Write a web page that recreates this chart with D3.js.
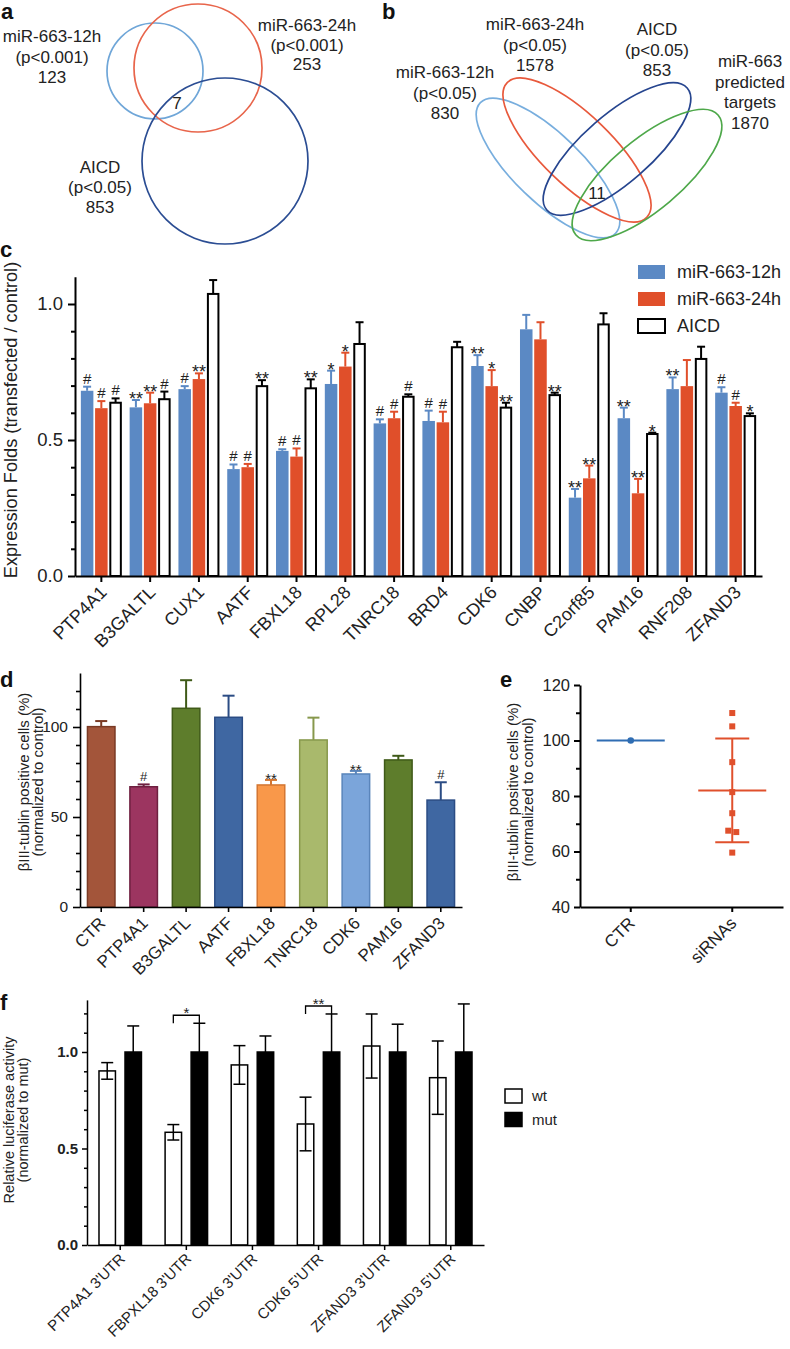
<!DOCTYPE html>
<html><head><meta charset="utf-8">
<script src="https://cdn.jsdelivr.net/npm/d3@7"></script>
<style>body{margin:0;background:#fff}svg{display:block}</style>
</head><body>
<script>
// ================= DATA =================
// Panel a (Venn)
const vennANames = ["miR-663-12h", "miR-663-24h", "AICD"];
const vennAPvals = ["(p<0.001)", "(p<0.001)", "(p<0.05)"];
const vennACounts = [123, 253, 853];
const vennAOverlap = 7;
// Panel b (Venn)
const vennBNames = [["miR-663-12h"], ["miR-663-24h"], ["AICD"], ["miR-663", "predicted", "targets"]];
const vennBPvals = ["(p<0.05)", "(p<0.05)", "(p<0.05)", null];
const vennBCounts = [830, 1578, 853, 1870];
const vennBOverlap = 11;
// Panel c
const cGenes = ["PTP4A1","B3GALTL","CUX1","AATF","FBXL18","RPL28","TNRC18","BRD4","CDK6","CNBP","C2orf85","PAM16","RNF208","ZFAND3"];
const cSeries = ["miR-663-12h","miR-663-24h","AICD"];
const c12hMean = [0.681,0.620,0.687,0.393,0.460,0.706,0.561,0.570,0.772,0.907,0.288,0.580,0.687,0.674];
const c12hErr  = [0.015,0.027,0.011,0.017,0.006,0.049,0.015,0.038,0.040,0.053,0.032,0.039,0.043,0.020];
const c12hSig  = ["#","**","#","#","#","*","#","#","**","","**","**","**","#"];
const c24hMean = [0.617,0.635,0.724,0.400,0.439,0.770,0.580,0.565,0.698,0.870,0.359,0.304,0.698,0.625];
const c24hErr  = [0.026,0.039,0.021,0.012,0.030,0.051,0.024,0.039,0.059,0.063,0.047,0.053,0.096,0.012];
const c24hSig  = ["#","**","**","#","#","*","#","#","*","","**","**","","#"];
const cAicdMean = [0.637,0.650,1.037,0.698,0.690,0.853,0.659,0.841,0.619,0.665,0.925,0.522,0.798,0.588];
const cAicdErr  = [0.016,0.028,0.051,0.022,0.033,0.080,0.009,0.020,0.018,0.009,0.041,0.005,0.045,0.010];
const cAicdSig  = ["#","#","","**","**","","#","","**","**","","*","","*"];
const cYTicks = [0, 0.5, 1.0];
// Panel d
const dGroups = ["CTR","PTP4A1","B3GALTL","AATF","FBXL18","TNRC18","CDK6","PAM16","ZFAND3"];
const dMean = [100.2, 66.8, 110.4, 105.4, 67.8, 92.8, 73.9, 81.7, 59.4];
const dErr  = [3.1, 1.3, 15.6, 12.0, 2.8, 12.4, 1.7, 2.3, 9.9];
const dSig  = ["","#","","","**","","**","","#"];
const dYTicks = [0, 50, 100];
// Panel e
const eGroups = ["CTR","siRNAs"];
const eCtrValues = [100];
const eSiValues = [109.9, 105.1, 92.2, 81.4, 73.8, 67.5, 67.0, 59.6];
const eMeans = [100, 82.0];
const eSDs = [0, 18.7];
const eYTicks = [40, 60, 80, 100, 120];
// Panel f
const fConstructs = ["PTP4A1 3'UTR","FBPXL18 3'UTR","CDK6 3'UTR","CDK6 5'UTR","ZFAND3 3'UTR","ZFAND3 5'UTR"];
const fSeries = ["wt","mut"];
const fWtMean = [0.902, 0.584, 0.933, 0.627, 1.031, 0.867];
const fWtErr  = [0.043, 0.040, 0.100, 0.139, 0.166, 0.190];
const fMutMean = [1, 1, 1, 1, 1, 1];
const fMutErr  = [0.135, 0.149, 0.083, 0.197, 0.144, 0.249];
const fSig = ["","*","","**","",""];
const fYTicks = [0, 0.5, 1.0];

// ================= STYLE =================
const FONT = '"Liberation Sans", Arial, Helvetica, sans-serif';
const C_BLUE = "#5b89c4", C_RED = "#e04f2a";
const dFill = ["#a3553a","#9c3560","#5e7d2c","#3f67a2","#f9984a","#a9b96c","#7ba5da","#5e7d2c","#3f67a2"];
const dStroke = ["#7a3a24","#6e2040","#3f5a18","#2b4c84","#d47632","#87984c","#5a85bb","#3f5a18","#2b4c84"];

const svg = d3.select("body").append("svg").attr("width",790).attr("height",1349)
  .attr("font-family", FONT).style("font-family", FONT);
svg.append("rect").attr("width",790).attr("height",1349).attr("fill","#fff");

function letter(t, x, y){
  svg.append("text").attr("x",x).attr("y",y).attr("font-size",22).attr("font-weight","bold").attr("fill","#111").text(t);
}
function lines(g, x, y0, arr, lh, fs){
  arr.forEach((t,i)=> g.append("text").attr("x",x).attr("y",y0+i*lh).attr("text-anchor","middle")
    .attr("font-size",fs).attr("fill","#222").text(t));
}
function styleAxis(g, w, fs, bold){
  g.attr("font-family", FONT);
  g.selectAll("path,line").attr("stroke","#000").attr("stroke-width",w);
  g.selectAll("text").attr("font-size",fs).attr("fill","#222").attr("font-weight", bold ? "bold" : null);
}
function minor(gParent, scale, vals, size, w, x){
  const g = gParent.append("g").attr("transform",`translate(${x},0)`)
    .call(d3.axisLeft(scale).tickValues(vals).tickSize(size).tickFormat(""));
  g.select(".domain").remove();
  g.selectAll("line").attr("stroke","#000").attr("stroke-width",w);
}
function rotLabels(g, fs, tx, ty){
  g.selectAll(".tick text").attr("font-size",fs).attr("text-anchor","end").attr("x",0).attr("y",0)
    .attr("dy","0.35em").attr("transform",`translate(${tx},${ty}) rotate(-45)`);
}
function ylabel(x, y, txt, fs){
  svg.append("text").attr("transform",`translate(${x},${y}) rotate(-90)`).attr("text-anchor","middle")
    .attr("font-size",fs).attr("fill","#222").text(txt);
}

// ================= PANEL a =================
letter("a", 1, 19);
const gA = svg.append("g");
const aLayout = [
  {cx:155, cy:71, r:48, color:"#6fa6d8", lx:52, ly:42, lh:20.5},
  {cx:198, cy:68, r:64, color:"#e8654b", lx:307, ly:31, lh:19.5},
  {cx:225, cy:161, r:83, color:"#2b4d93", lx:100, ly:173, lh:20}
];
gA.selectAll("circle").data(aLayout).join("circle")
  .attr("cx",d=>d.cx).attr("cy",d=>d.cy).attr("r",d=>d.r)
  .attr("fill","none").attr("stroke",d=>d.color).attr("stroke-width",1.7);
aLayout.forEach((d,i)=> lines(gA, d.lx, d.ly, [vennANames[i], vennAPvals[i], String(vennACounts[i])], d.lh, 17));
gA.append("text").attr("x",177).attr("y",109).attr("text-anchor","middle").attr("font-size",17).attr("fill","#222").text(vennAOverlap);

// ================= PANEL b =================
letter("b", 382, 19);
const gB = svg.append("g");
const bLayout = [
  {cx:548, cy:168, rx:94, ry:34, a:44, color:"#78aede", lx:445, ly:78},
  {cx:577, cy:150, rx:97, ry:35, a:44, color:"#e8593c", lx:535, ly:30},
  {cx:617, cy:149, rx:93, ry:34, a:-41, color:"#26458f", lx:657, ly:35},
  {cx:647, cy:175, rx:93, ry:35, a:-40, color:"#4ea84a", lx:750, ly:67}
];
gB.selectAll("ellipse").data(bLayout).join("ellipse")
  .attr("transform",d=>`translate(${d.cx},${d.cy}) rotate(${d.a})`)
  .attr("rx",d=>d.rx).attr("ry",d=>d.ry)
  .attr("fill","none").attr("stroke",d=>d.color).attr("stroke-width",1.7);
bLayout.forEach((d,i)=>{
  const arr = vennBNames[i].slice();
  if (vennBPvals[i]) arr.push(vennBPvals[i]);
  arr.push(String(vennBCounts[i]));
  lines(gB, d.lx, d.ly, arr, 20.5, 17);
});
gB.append("text").attr("x",597).attr("y",199).attr("text-anchor","middle").attr("font-size",17).attr("fill","#222").text(vennBOverlap);

// ================= PANEL c =================
letter("c", 0, 257);
const cx0 = d3.scaleBand().domain(cGenes).range([75,762]).paddingInner(0.16).paddingOuter(0.12);
const cx1 = d3.scaleBand().domain(cSeries).range([0,cx0.bandwidth()]).paddingInner(0.12);
const cy = d3.scaleLinear().domain([0,1.1]).range([576, 576-1.1*272]);
const cSets = [
  {name:cSeries[0], mean:c12hMean, err:c12hErr, sig:c12hSig, fill:C_BLUE, stroke:null, ec:C_BLUE},
  {name:cSeries[1], mean:c24hMean, err:c24hErr, sig:c24hSig, fill:C_RED, stroke:null, ec:C_RED},
  {name:cSeries[2], mean:cAicdMean, err:cAicdErr, sig:cAicdSig, fill:"#fff", stroke:"#000", ec:"#000"}
];
const gC = svg.append("g");
cSets.forEach(s=>{
  const rows = cGenes.map((g,i)=>({gene:g, m:s.mean[i], e:s.err[i], sig:s.sig[i]}));
  const g = gC.append("g");
  const bw = cx1.bandwidth();
  const xc = d => cx0(d.gene)+cx1(s.name)+bw/2;
  g.selectAll("line.err").data(rows).join("line").attr("class","err")
    .attr("x1",xc).attr("x2",xc).attr("y1",d=>cy(d.m)).attr("y2",d=>cy(d.m+d.e))
    .attr("stroke",s.ec).attr("stroke-width",2);
  g.selectAll("line.cap").data(rows).join("line").attr("class","cap")
    .attr("x1",d=>xc(d)-4).attr("x2",d=>xc(d)+4).attr("y1",d=>cy(d.m+d.e)).attr("y2",d=>cy(d.m+d.e))
    .attr("stroke",s.ec).attr("stroke-width",2);
  const sw = s.stroke ? 2 : 0;
  g.selectAll("rect").data(rows).join("rect")
    .attr("x",d=>cx0(d.gene)+cx1(s.name)+sw/2).attr("width",bw-sw)
    .attr("y",d=>cy(d.m)).attr("height",d=>cy(0)-cy(d.m))
    .attr("fill",s.fill).attr("stroke",s.stroke).attr("stroke-width",sw);
  g.selectAll("text").data(rows.filter(d=>d.sig)).join("text")
    .attr("x",xc).attr("y",d=> d.sig==="#" ? cy(d.m+d.e)-3 : cy(d.m+d.e)+5)
    .attr("text-anchor","middle").attr("font-size",d=>d.sig==="#"?15:18).attr("fill","#222").text(d=>d.sig);
});
const gCy = svg.append("g").attr("transform","translate(75,0)")
  .call(d3.axisLeft(cy).tickValues(cYTicks).tickFormat(d3.format(".1f")).tickSize(7).tickPadding(5).tickSizeOuter(0));
styleAxis(gCy, 2, 18.5);
minor(svg, cy, [0.1,0.2,0.3,0.4,0.6,0.7,0.8,0.9], 4, 2, 75);
const gCx = svg.append("g").attr("transform","translate(0,576)")
  .call(d3.axisBottom(cx0).tickSize(6).tickSizeOuter(0));
styleAxis(gCx, 2, 18);
rotLabels(gCx, 18, 2, 13);
ylabel(17, 420, "Expression Folds (transfected / control)", 18.2);
// legend c
const legC = svg.append("g");
cSets.forEach((s,i)=>{
  const yy = 272 + i*27;
  legC.append("rect").attr("x",638).attr("y",yy-7).attr("width",27).attr("height",14)
    .attr("fill",s.fill).attr("stroke",s.stroke).attr("stroke-width",s.stroke?2:0);
  legC.append("text").attr("x",677).attr("y",yy).attr("dy","0.36em").attr("font-size",18).attr("fill","#222").text(s.name);
});

// ================= PANEL d =================
letter("d", 0, 687);
const dx = d3.scaleBand().domain(dGroups).range([80,462]).paddingInner(0.316).paddingOuter(0.158);
const dy = d3.scaleLinear().domain([0,130]).range([907, 907-130*1.8]);
const dRows = dGroups.map((g,i)=>({g, m:dMean[i], e:dErr[i], sig:dSig[i], fill:dFill[i], stroke:dStroke[i]}));
const gD = svg.append("g");
const dxc = d => dx(d.g)+dx.bandwidth()/2;
gD.selectAll("line.err").data(dRows).join("line").attr("class","err")
  .attr("x1",dxc).attr("x2",dxc).attr("y1",d=>dy(d.m)).attr("y2",d=>dy(d.m+d.e))
  .attr("stroke",d=>d.stroke).attr("stroke-width",2);
gD.selectAll("line.cap").data(dRows).join("line").attr("class","cap")
  .attr("x1",d=>dxc(d)-6).attr("x2",d=>dxc(d)+6).attr("y1",d=>dy(d.m+d.e)).attr("y2",d=>dy(d.m+d.e))
  .attr("stroke",d=>d.stroke).attr("stroke-width",2);
gD.selectAll("rect").data(dRows).join("rect")
  .attr("x",d=>dx(d.g)+0.75).attr("width",dx.bandwidth()-1.5)
  .attr("y",d=>dy(d.m)).attr("height",d=>dy(0)-dy(d.m))
  .attr("fill",d=>d.fill).attr("stroke",d=>d.stroke).attr("stroke-width",1.5);
gD.selectAll("text").data(dRows.filter(d=>d.sig)).join("text")
  .attr("x",dxc).attr("y",d=> d.sig==="#" ? dy(d.m+d.e)-3 : dy(d.m+d.e)+4)
  .attr("text-anchor","middle").attr("font-size",d=>d.sig==="#"?13:15).attr("fill","#222").text(d=>d.sig);
const gDy = svg.append("g").attr("transform","translate(80,0)")
  .call(d3.axisLeft(dy).tickValues(dYTicks).tickSize(7).tickPadding(5).tickSizeOuter(0));
styleAxis(gDy, 1.6, 15.5);
minor(svg, dy, [10,20,30,40,60,70,80,90,110,120], 4, 1.6, 80);
const gDx = svg.append("g").attr("transform","translate(0,907)")
  .call(d3.axisBottom(dx).tickSize(5).tickSizeOuter(0));
styleAxis(gDx, 1.6, 17);
rotLabels(gDx, 17, 1, 13);
ylabel(29, 782, "βIII-tublin positive cells  (%)", 15);
ylabel(43, 782, "(normalized to control)", 15);

// ================= PANEL e =================
letter("e", 500, 687);
const ex = d3.scaleBand().domain(eGroups).range([580,783]);
const ey = d3.scaleLinear().domain([40,120]).range([907,685]);
const gE = svg.append("g");
const exc = g => ex(g)+ex.bandwidth()/2;
const E_BLUE = "#2f6db3", E_RED = "#e0502c";
// CTR
gE.append("line").attr("x1",exc(eGroups[0])-34).attr("x2",exc(eGroups[0])+34)
  .attr("y1",ey(eMeans[0])).attr("y2",ey(eMeans[0])).attr("stroke",E_BLUE).attr("stroke-width",2);
gE.selectAll("circle").data(eCtrValues).join("circle")
  .attr("cx",exc(eGroups[0])).attr("cy",d=>ey(d)).attr("r",3.3).attr("fill",E_BLUE);
// siRNAs
const sx = exc(eGroups[1]);
gE.append("line").attr("x1",sx).attr("x2",sx).attr("y1",ey(eMeans[1]-eSDs[1])).attr("y2",ey(eMeans[1]+eSDs[1]))
  .attr("stroke",E_RED).attr("stroke-width",2);
[eMeans[1]-eSDs[1], eMeans[1]+eSDs[1]].forEach(v=>
  gE.append("line").attr("x1",sx-17).attr("x2",sx+17).attr("y1",ey(v)).attr("y2",ey(v)).attr("stroke",E_RED).attr("stroke-width",2));
gE.append("line").attr("x1",sx-34).attr("x2",sx+34).attr("y1",ey(eMeans[1])).attr("y2",ey(eMeans[1]))
  .attr("stroke",E_RED).attr("stroke-width",2);
const jitter = eSiValues.map((v,i)=>{
  const j = eSiValues.findIndex((w,k)=>k!==i && Math.abs(w-v)<1.5);
  return j<0 ? 0 : (i<j ? -4 : 4);
});
gE.selectAll("rect").data(eSiValues).join("rect")
  .attr("x",(d,i)=>sx+jitter[i]-3).attr("y",d=>ey(d)-3).attr("width",6).attr("height",6).attr("fill",E_RED);
const gEy = svg.append("g").attr("transform","translate(580,0)")
  .call(d3.axisLeft(ey).tickValues(eYTicks).tickSize(6).tickPadding(4).tickSizeOuter(0));
styleAxis(gEy, 2, 16.5);
minor(svg, ey, [50,70,90,110], 4, 2, 580);
const gEx = svg.append("g").attr("transform","translate(0,907)")
  .call(d3.axisBottom(ex).tickSize(5).tickSizeOuter(0));
styleAxis(gEx, 2, 17);
rotLabels(gEx, 17, 1, 13);
ylabel(518, 792, "βIII-tublin positive cells (%)", 15);
ylabel(533, 792, "(normalized to control)", 15);

// ================= PANEL f =================
letter("f", 0, 1010);
const fx0 = d3.scaleBand().domain(fConstructs).range([87,484]).paddingInner(0.335).paddingOuter(0.17);
const fx1 = d3.scaleBand().domain(fSeries).range([0,fx0.bandwidth()]).paddingInner(0.31);
const fy = d3.scaleLinear().domain([0,1.27]).range([1245, 1245-1.27*193]);
const fSets = [
  {name:"wt", mean:fWtMean, err:fWtErr, fill:"#fff"},
  {name:"mut", mean:fMutMean, err:fMutErr, fill:"#000"}
];
const gF = svg.append("g");
fSets.forEach(s=>{
  const rows = fConstructs.map((c,i)=>({c, m:s.mean[i], e:s.err[i]}));
  const bw = fx1.bandwidth();
  const xc = d => fx0(d.c)+fx1(s.name)+bw/2;
  const g = gF.append("g");
  g.selectAll("rect").data(rows).join("rect")
    .attr("x",d=>fx0(d.c)+fx1(s.name)+0.75).attr("width",bw-1.5)
    .attr("y",d=>fy(d.m)).attr("height",d=>fy(0)-fy(d.m))
    .attr("fill",s.fill).attr("stroke","#000").attr("stroke-width",1.5);
  g.selectAll("line.err").data(rows).join("line").attr("class","err")
    .attr("x1",xc).attr("x2",xc).attr("y1",d=>fy(d.m-d.e)).attr("y2",d=>fy(d.m+d.e))
    .attr("stroke","#000").attr("stroke-width",1.5);
  [1,-1].forEach(sg=>{
    g.selectAll("line.cap"+(sg>0?"u":"d")).data(rows).join("line").attr("class","cap"+(sg>0?"u":"d"))
      .attr("x1",d=>xc(d)-6).attr("x2",d=>xc(d)+6).attr("y1",d=>fy(d.m+sg*d.e)).attr("y2",d=>fy(d.m+sg*d.e))
      .attr("stroke","#000").attr("stroke-width",1.5);
  });
});
// significance brackets
fConstructs.forEach((c,i)=>{
  if(!fSig[i]) return;
  const xw = fx0(c)+fx1("wt")+fx1.bandwidth()/2, xm = fx0(c)+fx1("mut")+fx1.bandwidth()/2;
  const top = Math.max(fWtMean[i]+fWtErr[i], fMutMean[i]+fMutErr[i]);
  const yb = fy(top)-8;
  gF.append("path").attr("d",`M${xw},${yb+8}V${yb}H${xm}V${fy(fMutMean[i]+fMutErr[i])}`)
    .attr("fill","none").attr("stroke","#000").attr("stroke-width",1.3);
  gF.append("text").attr("x",(xw+xm)/2).attr("y",yb+3).attr("text-anchor","middle")
    .attr("font-size",15).attr("fill","#222").text(fSig[i]);
});
const gFy = svg.append("g").attr("transform","translate(87,0)")
  .call(d3.axisLeft(fy).tickValues(fYTicks).tickFormat(d3.format(".1f")).tickSize(5).tickPadding(4).tickSizeOuter(0));
styleAxis(gFy, 1.5, 15, true);
minor(svg, fy, [0.1,0.2,0.3,0.4,0.6,0.7,0.8,0.9,1.1,1.2], 3, 1.5, 87);
const gFx = svg.append("g").attr("transform","translate(0,1245)")
  .call(d3.axisBottom(fx0).tickSize(5).tickSizeOuter(0));
styleAxis(gFx, 1.5, 15);
rotLabels(gFx, 15, 2, 11);
ylabel(14, 1120, "Relative luciferase activity", 14.5);
ylabel(28, 1120, "(normalized to mut)", 14.5);
// legend f
const legF = svg.append("g");
fSets.forEach((s,i)=>{
  const yy = 1096 + i*23.5;
  legF.append("rect").attr("x",505).attr("y",yy-7).attr("width",17).attr("height",14)
    .attr("fill",s.fill).attr("stroke","#000").attr("stroke-width",1.5);
  legF.append("text").attr("x",532).attr("y",yy).attr("dy","0.36em").attr("font-size",15).attr("fill","#222").text(s.name);
});
</script>
</body></html>
